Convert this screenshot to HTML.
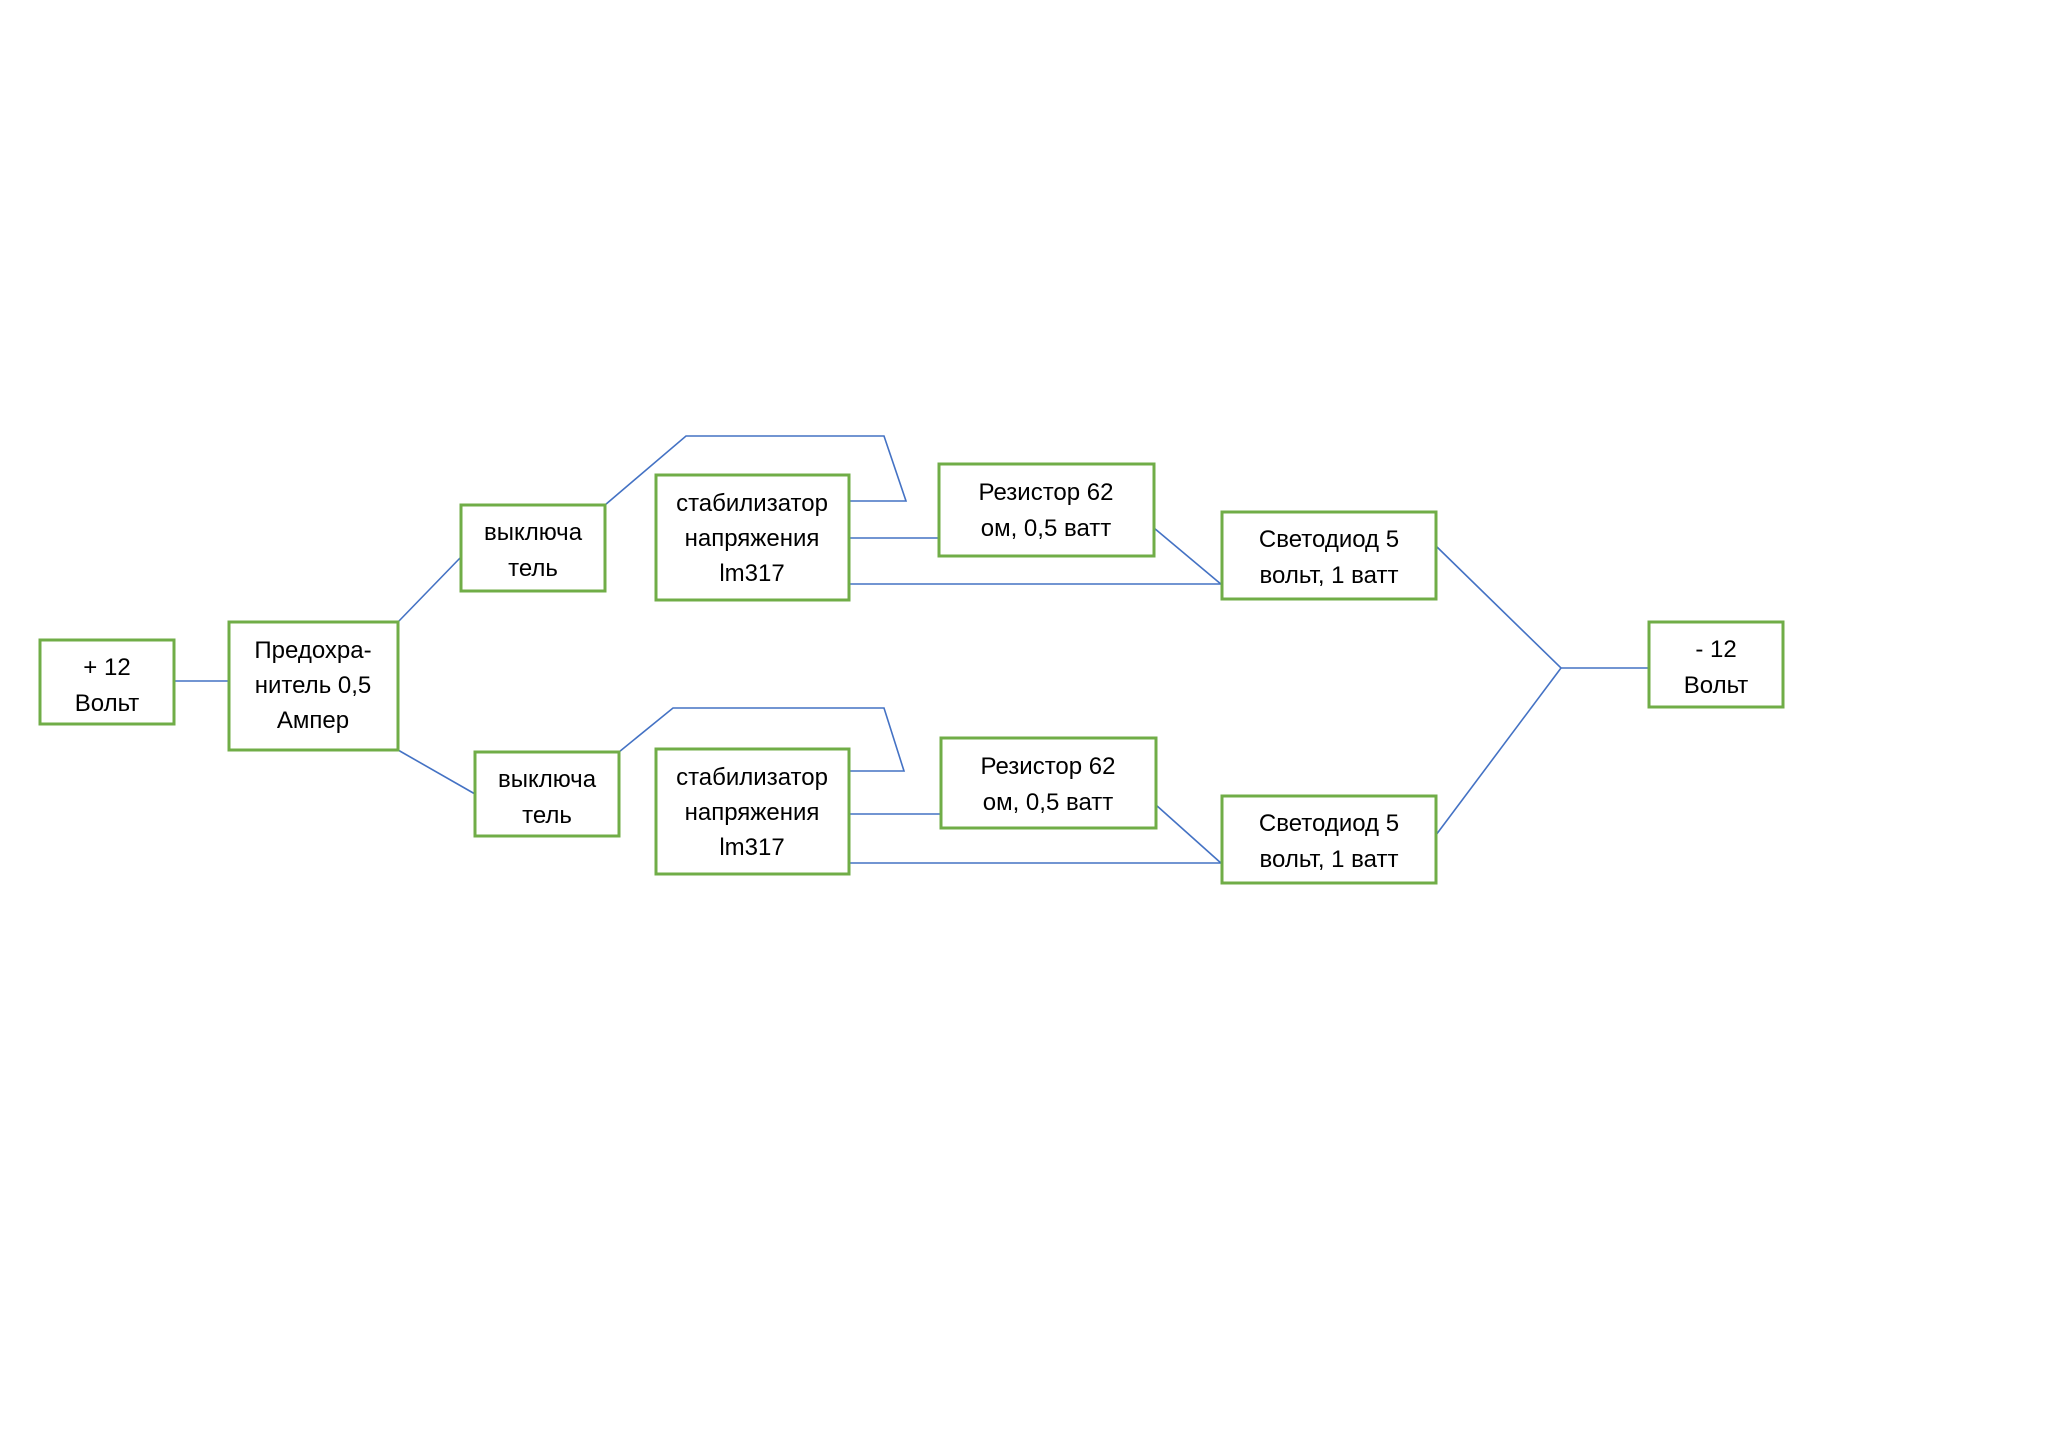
<!DOCTYPE html>
<html>
<head>
<meta charset="utf-8">
<style>
  html,body{margin:0;padding:0;background:#fff;}
  svg{display:block;}
  text{font-family:"Liberation Sans","DejaVu Sans",sans-serif;font-size:24px;fill:#000;text-anchor:middle;}
  .box{fill:#fff;stroke:#70AD47;stroke-width:3;}
  .ln{fill:none;stroke:#4472C4;stroke-width:1.6;}
</style>
</head>
<body>
<svg width="2048" height="1448" viewBox="0 0 2048 1448" xmlns="http://www.w3.org/2000/svg">
  <rect x="0" y="0" width="2048" height="1448" fill="#fff"/>

  <!-- connectors -->
  <line class="ln" x1="174" y1="681" x2="229" y2="681"/>
  <line class="ln" x1="398" y1="622" x2="461" y2="557"/>
  <line class="ln" x1="398" y1="750" x2="475" y2="794"/>
  <polyline class="ln" points="605,505 686,436 884,436 906,501 849,501"/>
  <line class="ln" x1="849" y1="538" x2="939" y2="538"/>
  <line class="ln" x1="846" y1="584" x2="1222" y2="584"/>
  <line class="ln" x1="1154" y1="528" x2="1222" y2="585"/>
  <polyline class="ln" points="619,752 673,708 884,708 904,771 849,771"/>
  <line class="ln" x1="849" y1="814" x2="941" y2="814"/>
  <line class="ln" x1="849" y1="863" x2="1222" y2="863"/>
  <line class="ln" x1="1156" y1="805" x2="1222" y2="864"/>
  <polyline class="ln" points="1436,546 1561,668 1649,668"/>
  <line class="ln" x1="1436" y1="835" x2="1561" y2="668"/>

  <!-- +12 -->
  <rect class="box" x="40" y="640" width="134" height="84"/>
  <text x="107" y="675">+ 12</text>
  <text x="107" y="711">Вольт</text>

  <!-- fuse -->
  <rect class="box" x="229" y="622" width="169" height="128"/>
  <text x="313" y="658">Предохра-</text>
  <text x="313" y="693">нитель 0,5</text>
  <text x="313" y="728">Ампер</text>

  <!-- switch top -->
  <rect class="box" x="461" y="505" width="144" height="86"/>
  <text x="533" y="540">выключа</text>
  <text x="533" y="576">тель</text>

  <!-- stabilizer top -->
  <rect class="box" x="656" y="475" width="193" height="125"/>
  <text x="752" y="511">стабилизатор</text>
  <text x="752" y="546">напряжения</text>
  <text x="752" y="581">lm317</text>

  <!-- resistor top -->
  <rect class="box" x="939" y="464" width="215" height="92"/>
  <text x="1046" y="500">Резистор 62</text>
  <text x="1046" y="536">ом, 0,5 ватт</text>

  <!-- LED top -->
  <rect class="box" x="1222" y="512" width="214" height="87"/>
  <text x="1329" y="547">Светодиод 5</text>
  <text x="1329" y="583">вольт, 1 ватт</text>

  <!-- switch bottom -->
  <rect class="box" x="475" y="752" width="144" height="84"/>
  <text x="547" y="787">выключа</text>
  <text x="547" y="823">тель</text>

  <!-- stabilizer bottom -->
  <rect class="box" x="656" y="749" width="193" height="125"/>
  <text x="752" y="785">стабилизатор</text>
  <text x="752" y="820">напряжения</text>
  <text x="752" y="855">lm317</text>

  <!-- resistor bottom -->
  <rect class="box" x="941" y="738" width="215" height="90"/>
  <text x="1048" y="774">Резистор 62</text>
  <text x="1048" y="810">ом, 0,5 ватт</text>

  <!-- LED bottom -->
  <rect class="box" x="1222" y="796" width="214" height="87"/>
  <text x="1329" y="831">Светодиод 5</text>
  <text x="1329" y="867">вольт, 1 ватт</text>

  <!-- -12 -->
  <rect class="box" x="1649" y="622" width="134" height="85"/>
  <text x="1716" y="657">- 12</text>
  <text x="1716" y="693">Вольт</text>
</svg>
</body>
</html>
